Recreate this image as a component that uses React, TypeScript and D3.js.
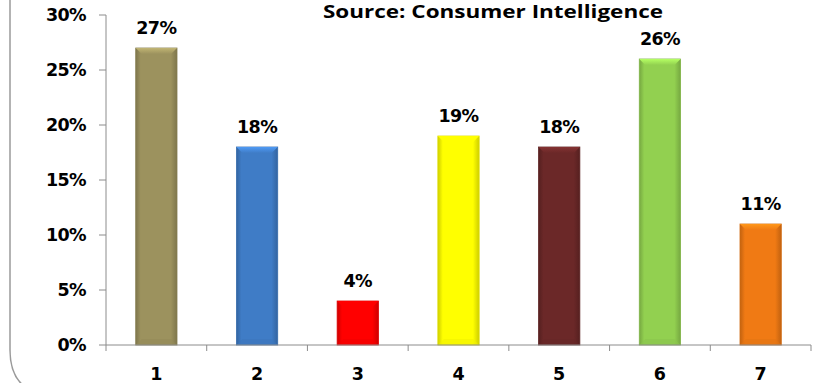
import React from "react";
import * as d3 from "d3";

const categories = ["1", "2", "3", "4", "5", "6", "7"];
const values = [27, 18, 4, 19, 18, 26, 11];
const barColors = ["#9C925E", "#3F7CC6", "#FF0000", "#FFFF00", "#6B2828", "#92D050", "#F07A14"];
const yTicks = [0, 5, 10, 15, 20, 25, 30];
const title = "Source: Consumer Intelligence";

const W = 818;
const H = 383;
const left = 106;
const right = 811;
const top = 15;
const bottom = 345;

export default function App() {
  const x = d3.scaleBand<string>().domain(categories).range([left, right]).paddingInner(0.59).paddingOuter(0.295);
  const xTickScale = d3.scaleLinear().domain([0, categories.length]).range([left, right]);
  const y = d3.scaleLinear().domain([0, 30]).range([bottom, top]);
  const font = "'DejaVu Sans', Verdana, sans-serif";
  const fs = 17.5;
  const bw = x.bandwidth();
  const bev = 6;

  return (
    <svg width={W} height={H} style={{ position: "absolute", left: 0, top: 0, background: "#fff" }}>
      <defs>
        {barColors.map((c, i) => {
          const base = d3.color(c)!;
          const dark = d3.color(c)!.darker(0.6).toString();
          const light = d3.color(c)!.brighter(0.6).toString();
          return (
            <g key={i}>
              <linearGradient id={`g${i}`} x1="0" x2="1" y1="0" y2="0">
                <stop offset="0" stopColor={dark} />
                <stop offset="0.12" stopColor={base.toString()} />
                <stop offset="0.85" stopColor={base.toString()} />
                <stop offset="1" stopColor={dark} />
              </linearGradient>
              <linearGradient id={`t${i}`} x1="0" x2="0" y1="0" y2="1">
                <stop offset="0" stopColor={light} />
                <stop offset="1" stopColor={base.toString()} />
              </linearGradient>
            </g>
          );
        })}
      </defs>
      {/* rounded border */}
      <path d={`M10,-10 L10,350 Q10,392 50,395`} fill="none" stroke="#9a9a9a" strokeWidth={1.5} />
      {/* title */}
      <text x={493} y={18} textAnchor="middle" fontFamily="'Open Sans', sans-serif" fontWeight="bold" fontSize={18} textLength={340} lengthAdjust="spacingAndGlyphs" fill="#000">
        {title}
      </text>
      {/* y axis */}
      <line x1={left} x2={left} y1={y(30)} y2={bottom} stroke="#8c8c8c" />
      {yTicks.map((t) => (
        <g key={t}>
          <line x1={left - 7} x2={left} y1={y(t)} y2={y(t)} stroke="#8c8c8c" />
          <text x={86} y={y(t)} dy="0.36em" textAnchor="end" fontFamily={font} fontWeight="bold" fontSize={fs} fill="#000" letterSpacing={-0.6}>
            {t}%
          </text>
        </g>
      ))}
      {/* bars */}
      {values.map((v, i) => {
        const bx = x(categories[i])!;
        const by = y(v);
        const bh = bottom - by;
        return (
          <g key={i}>
            <rect x={bx} y={by} width={bw} height={bh} fill={`url(#g${i})`} stroke={d3.color(barColors[i])!.darker(0.4).toString()} strokeWidth={0.8} />
            <polygon
              points={`${bx},${by} ${bx + bw},${by} ${bx + bw - bev},${by + bev} ${bx + bev},${by + bev}`}
              fill={`url(#t${i})`}
            />
            <polygon
              points={`${bx + bev},${bottom - bev} ${bx + bw - bev},${bottom - bev} ${bx + bw},${bottom} ${bx},${bottom}`}
              fill={d3.color(barColors[i])!.darker(0.15).toString()}
              opacity={0.6}
            />
            <text x={bx + bw / 2} y={by - 14} textAnchor="middle" fontFamily={font} fontWeight="bold" fontSize={fs} fill="#000" letterSpacing={-0.6}>
              {v}%
            </text>
          </g>
        );
      })}
      {/* x axis */}
      <line x1={left} x2={right} y1={bottom} y2={bottom} stroke="#8c8c8c" />
      {d3.range(categories.length + 1).map((k) => (
        <line key={k} x1={xTickScale(k)} x2={xTickScale(k)} y1={bottom} y2={bottom + 6} stroke="#8c8c8c" />
      ))}
      {categories.map((c) => (
        <text key={c} x={x(c)! + bw / 2} y={380} textAnchor="middle" fontFamily={font} fontWeight="bold" fontSize={fs} fill="#000">
          {c}
        </text>
      ))}
    </svg>
  );
}
